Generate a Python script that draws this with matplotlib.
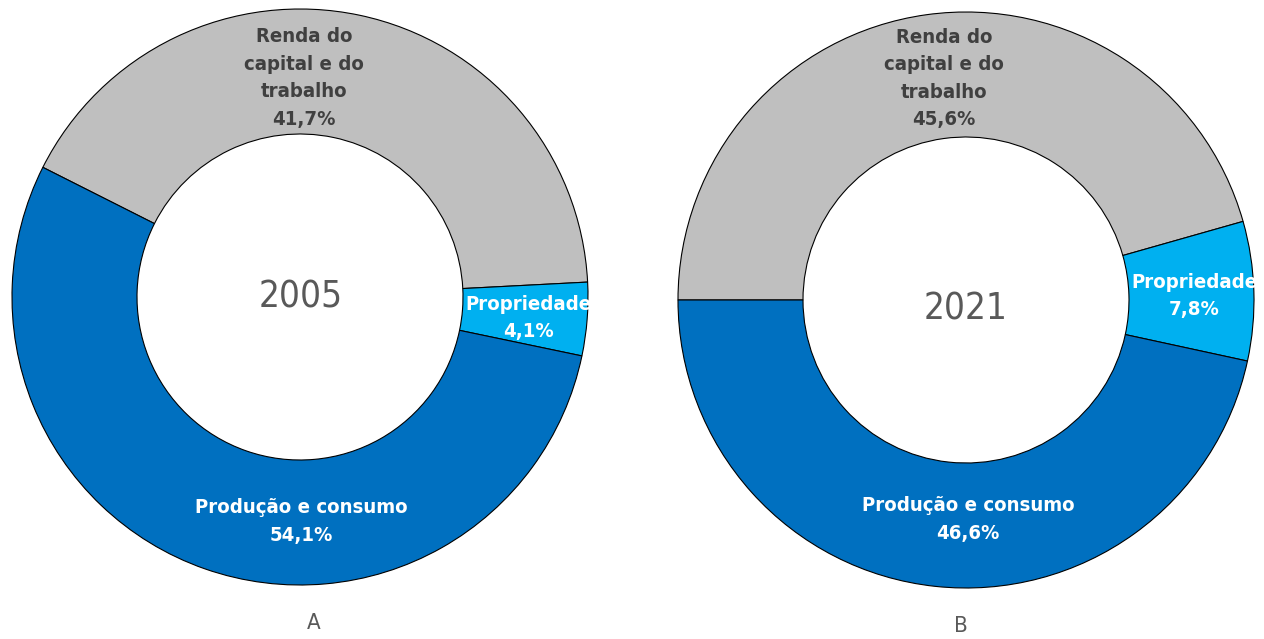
import os
import matplotlib
matplotlib.use("Agg")
import matplotlib.pyplot as plt
from matplotlib import font_manager as fm

categories = ["Renda do\ncapital e do\ntrabalho", "Propriedade", "Produção e consumo"]
values_2005 = [41.7, 4.1, 54.1]
values_2021 = [45.6, 7.8, 46.6]
years = ["2005", "2021"]
panel_labels = ["A", "B"]
colors = ["#BFBFBF", "#00B0F0", "#0070C0"]
text_colors = ["#404040", "white", "white"]


def find_font(patterns):
    files = [f.fname for f in fm.fontManager.ttflist]
    for p in patterns:
        for fn in files:
            if os.path.basename(fn).lower().startswith(p.lower()):
                return fn
    return None


bold_file = find_font(["LiberationSansNarrow-Bold.", "LiberationSansNarrow-Bold",
                       "DejaVuSansCondensed-Bold."])
reg_file = find_font(["LiberationSansNarrow-Regular", "LiberationSansNarrow.",
                      "DejaVuSansCondensed."])
fp_bold = fm.FontProperties(fname=bold_file) if bold_file else \
    fm.FontProperties(family="Liberation Sans", weight="bold")
fp_reg = fm.FontProperties(fname=reg_file) if reg_file else \
    fm.FontProperties(family="Liberation Sans")

W, H = 1264, 639
fig = plt.figure(figsize=(W / 100, H / 100), dpi=100)
ax = fig.add_axes([0, 0, 1, 1])

R = 288
inner = 163
wp = dict(width=R - inner, edgecolor="black", linewidth=0.8)

ax.pie(values_2005, colors=colors, startangle=153.24, counterclock=False,
       center=(300, H - 297), radius=R, wedgeprops=wp)
ax.pie(values_2021, colors=colors, startangle=180, counterclock=False,
       center=(966, H - 300), radius=R, wedgeprops=wp)
ax.set_xlim(0, W)
ax.set_ylim(0, H)
ax.set_aspect("equal")
ax.axis("off")

renderer = fig.canvas.get_renderer()


def fit_size(s, fp, target_w, base=20):
    t = ax.text(0, 0, s, fontproperties=fp, fontsize=base)
    w = t.get_window_extent(renderer).width
    t.remove()
    return base * target_w / w


def fmt(v):
    return f"{v:.1f}%".replace(".", ",")


lab_size = fit_size("Produção e consumo", fp_bold, 199) * 1.07
year_size = fit_size("2005", fp_reg, 75) * 1.12
step = 27.5

# (x centre, baseline of first line) for each category
pos_2005 = [(304, 42), (528, 310), (301, 513)]
pos_2021 = [(944, 43), (1194, 288), (968, 511)]
for vals, poss in ((values_2005, pos_2005), (values_2021, pos_2021)):
    for cat, v, (x, y0), tc in zip(categories, vals, poss, text_colors):
        lines = cat.split("\n") + [fmt(v)]
        for i, ln in enumerate(lines):
            ax.text(x, H - (y0 + i * step), ln, ha="center", va="baseline",
                    fontproperties=fp_bold, fontsize=lab_size, color=tc)

ax.text(301, H - 307, years[0], ha="center", va="baseline",
        fontproperties=fp_reg, fontsize=year_size, color="#595959")
ax.text(966, H - 320, years[1], ha="center", va="baseline",
        fontproperties=fp_reg, fontsize=year_size, color="#595959")
ax.text(314, H - 629, panel_labels[0], ha="center", va="baseline",
        fontproperties=fp_reg, fontsize=16, color="#595959")
ax.text(961, H - 632, panel_labels[1], ha="center", va="baseline",
        fontproperties=fp_reg, fontsize=16, color="#595959")

fig.savefig("out.png", dpi=100)
